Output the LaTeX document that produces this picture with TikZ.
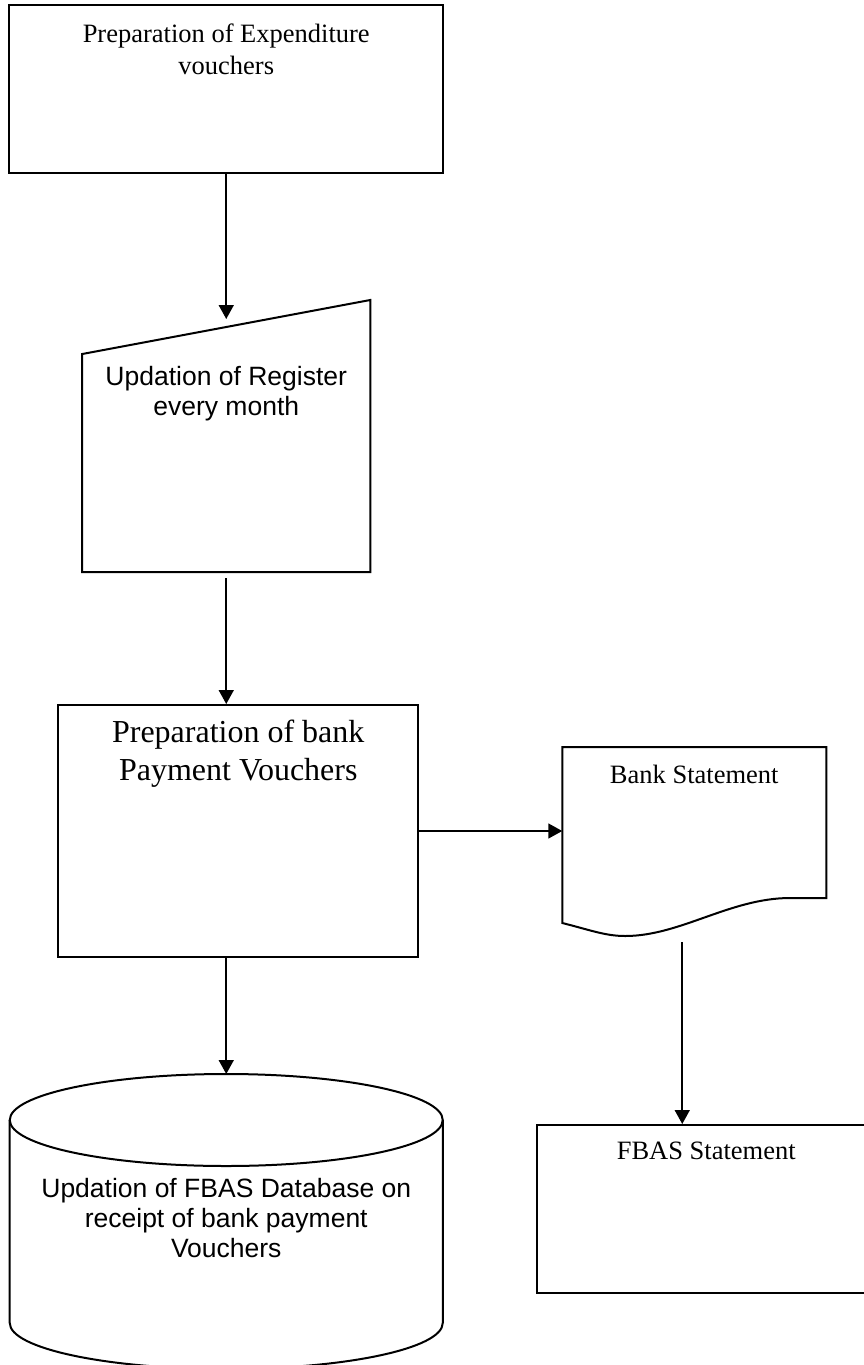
\documentclass[tikz,border=0pt]{standalone}
\usepackage{fontspec}
\setmainfont{Liberation Serif}
\setsansfont{Liberation Sans}
\usetikzlibrary{positioning,calc,arrows.meta}

\begin{document}
\begin{tikzpicture}[node distance=1cm,>={Triangle[length=14pt,width=15pt]},auto]
  \tikzstyle{box}=[rectangle,draw,line width=2pt,inner sep=0pt]
  \tikzstyle{frame}=[rectangle,inner sep=0pt,outer sep=0pt]
  \tikzstyle{txt}=[inner sep=0pt,align=center,anchor=north,font=\fontsize{26.5}{32}\selectfont]
  \tikzstyle{sanstxt}=[txt,font=\sffamily\fontsize{26.5}{30}\selectfont]
  \tikzstyle{flow}=[->,line width=1.7pt]

  \useasboundingbox (-226.25pt,89pt) rectangle (637.75pt,-1276pt);

    \node [box,minimum width=433.5pt,minimum height=168pt,
      label={[txt,yshift=-19.5pt]north:{Preparation of Expenditure\\vouchers}}] (prep) at (0,0) {};
    \node [frame,minimum width=288pt,minimum height=272pt,
      label={[sanstxt,yshift=-66pt]north:{Updation of Register\\every month}}] (reg) [below=126pt of prep] {};
    \node [box,minimum width=360pt,minimum height=252pt,
      label={[txt,font=\fontsize{32}{38}\selectfont,yshift=-16pt]north:{Preparation of bank\\Payment Vouchers}}] (bpv) [below=132pt of reg,xshift=12pt] {};
    \node [frame,minimum width=264pt,minimum height=188pt,
      label={[txt,yshift=-18pt]north:Bank Statement}] (bank) [right=143pt of bpv,yshift=-10pt] {};
    \node [box,minimum width=338pt,minimum height=168pt,
      label={[txt,yshift=-18pt]north:FBAS Statement}] (fbas) [below=189pt of bank,xshift=12pt] {};
    \node [frame,minimum width=433pt,minimum height=295pt,
      label={[sanstxt,yshift=-104pt]north:{Updation of FBAS Database on\\receipt of bank payment\\Vouchers}}] (db) [below=116pt of bpv,xshift=-12pt] {};

% manual input
\draw [line width=2pt] (reg.south west) -- (reg.south east) -- (reg.north east) -- ($(reg.north west)+(0,-54pt)$) -- cycle;
\coordinate (regtop) at ($(reg.north west)+(0,-54pt)$);
% document
\begin{scope}[shift={(bank.south west)},line width=2pt]
\draw (0,188pt) -- (264pt,188pt) -- (264pt,37pt) -- (228pt,37pt) .. controls (168pt,37pt) and (118pt,-1pt) .. (63pt,-1pt) .. controls (43pt,-1pt) and (28pt,5pt) .. (0,12pt) -- cycle;
\end{scope}
\coordinate (bankout) at ($(bank.south west)+(120pt,0)$);
% database
\draw [line width=2pt] ($(db.north)+(0,-46pt)$) ellipse [x radius=216.5pt,y radius=46pt];
\draw [line width=2pt] ($(db.north west)+(0,-46pt)$) -- ($(db.south west)+(0,46pt)$) arc [start angle=180,end angle=360,x radius=216.5pt,y radius=46pt] -- ($(db.north east)+(0,-46pt)$);

\draw [flow,shorten >=8pt] (prep.south) -- ($(regtop)!0.5!(reg.north east)$);
\draw [flow,shorten <=6pt] (reg.south) -- (bpv.north -| reg.south);
\draw [flow] (bpv.east) -- (bpv.east -| bank.west);
\draw [flow] (bpv.south -| db.north) -- (db.north);
\draw [flow,shorten <=7pt] (bankout) -- (bankout |- fbas.north);
\end{tikzpicture}
\end{document}
